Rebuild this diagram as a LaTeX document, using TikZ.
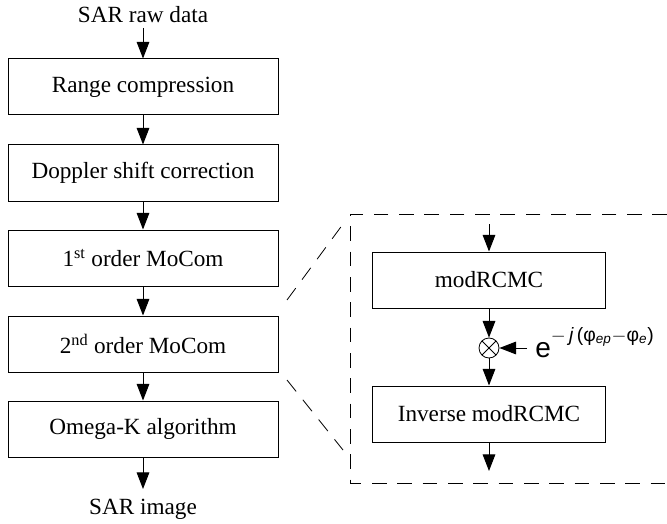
\documentclass[tikz,border=0pt]{standalone}
\usepackage{fontspec}
\setmainfont{Liberation Serif}
\newfontfamily\expfont{Liberation Sans}
\usetikzlibrary{arrows.meta}
\begin{document}
\begin{tikzpicture}[x=0.75pt,y=-0.75pt,
  every node/.style={font=\fontsize{17.4}{20}\selectfont},
  stage/.style={draw,line width=0.75pt,minimum width=202.5pt,minimum height=42pt,inner sep=0pt},
  substage/.style={draw,line width=0.75pt,minimum width=174.75pt,minimum height=42pt,inner sep=0pt},
  flow/.style={line width=0.75pt,-{Triangle[length=12.5pt,width=9.5pt]}},
  zoomline/.style={line width=0.6pt,dash pattern=on 11pt off 8pt},
  mixer/.style={draw,circle,line width=0.6pt,minimum size=15pt,inner sep=0pt,
    path picture={\draw[line width=0.6pt] (path picture bounding box.south west) -- (path picture bounding box.north east)
      (path picture bounding box.north west) -- (path picture bounding box.south east);}}]
\useasboundingbox (0,0) rectangle (667,524);

% main processing chain
\node (in) at (143,15) {SAR raw data};
\node[stage] (rc) at (143,87) {Range compression};
\node[stage] (dc) at (143,173) {Doppler shift correction};
\node[stage] (m1) at (143,258) {1\textsuperscript{st} order MoCom};
\node[stage] (m2) at (143,344) {2\textsuperscript{nd} order MoCom};
\node[stage] (ok) at (143,429) {Omega-K algorithm};
\node (out) at (143,509) {SAR image};
\coordinate (inbot) at (143,28);
\coordinate (outtop) at (143,489);

\draw[flow] (inbot) -- (rc.north);
\draw[flow] (rc) -- (dc);
\draw[flow] (dc) -- (m1);
\draw[flow] (m1) -- (m2);
\draw[flow] (m2) -- (ok);
\draw[flow] (ok.south) -- (outtop);

% detail of the 2nd order MoCom
\coordinate (zt) at (350,214);
\coordinate (zb) at (350,483);
\draw[zoomline] (667,214) -- (zt) -- (zb) -- (667,483);
\draw[zoomline] (287,300) -- (346,220);
\draw[zoomline] (287,380) -- (343,450);

\node[substage] (mr) at (489,280) {modRCMC};
\node[mixer] (mx) at (489,348) {};
\node[substage] (im) at (489,414) {Inverse modRCMC};
\node[anchor=base west,inner sep=0pt] (ph) at (535,357)
  {\expfont\fontsize{21}{24}\selectfont e\raisebox{12pt}{\fontsize{14.5}{16}\selectfont
   $-$\,\textit{j}\,(φ\textsubscript{\textit{ep}}$-$φ\textsubscript{\textit{e}})}};
\coordinate (sin) at (489,224);
\coordinate (sout) at (489,471);
\coordinate (phin) at (527,348);

\draw[flow] (sin) -- (mr.north);
\draw[flow] (mr) -- (mx);
\draw[flow] (mx) -- (im);
\draw[flow] (im.south) -- (sout);
\draw[flow] (phin) -- (mx);
\end{tikzpicture}
\end{document}
